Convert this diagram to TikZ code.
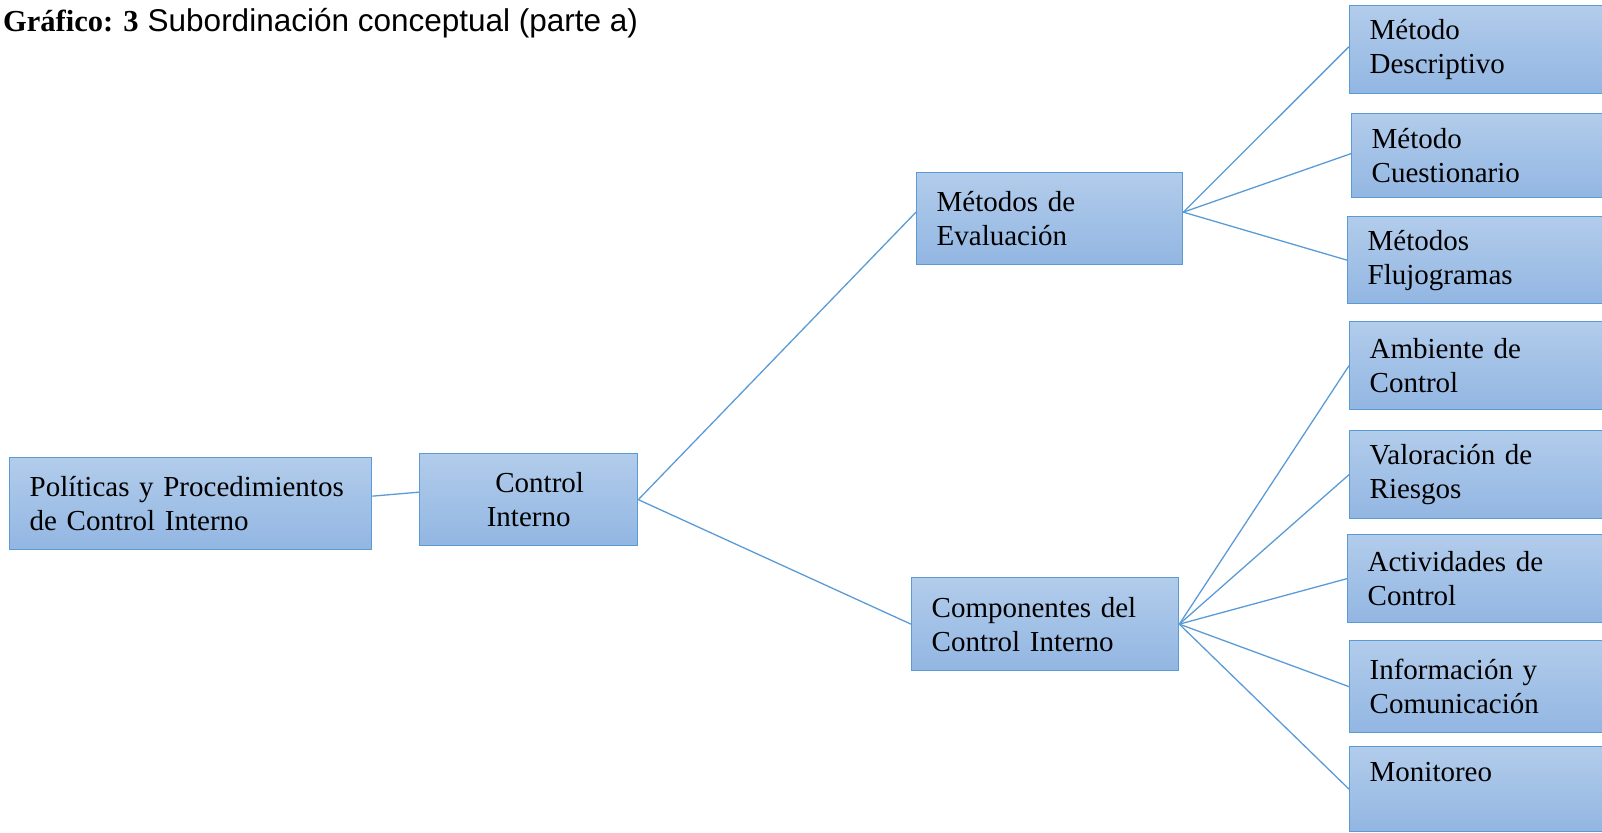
\documentclass[tikz,border=0pt]{standalone}
\usepackage{fontspec}
\setmainfont{Liberation Serif}
\newfontfamily\arialf{Liberation Sans}
\definecolor{boxtop}{HTML}{B2CCEB}
\definecolor{boxbot}{HTML}{92B6E2}
\definecolor{edgeblue}{HTML}{5B9BD5}
\tikzset{
  box/.style={draw=edgeblue, line width=1.3pt, top color=boxtop, bottom color=boxbot,
    rectangle, anchor=north west, inner xsep=20pt, inner ysep=0pt, align=left,
    font=\fontsize{29}{34}\selectfont},
  link/.style={draw=edgeblue, line width=1.3pt}
}
\begin{document}
\begin{tikzpicture}[x=1pt,y=-1pt]
\useasboundingbox (0,0) rectangle (1602,832);
\node[anchor=base west, inner sep=0pt] (title) at (3,32)
  {{\fontsize{30.5}{36}\selectfont\bfseries Gráfico: 3}\hspace{9pt}{\arialf\fontsize{31.5}{36}\selectfont Subordinación conceptual (parte a)}};
\node[box, minimum width=362pt, minimum height=92pt, text width=322pt] (pol) at (9,457)
  {Políticas y Procedimientos\\de Control Interno};
\node[box, minimum width=218pt, minimum height=92pt, text width=178pt, align=center] (ci) at (419,453)
  {\hspace*{22pt}Control\\Interno};
\node[box, minimum width=266pt, minimum height=92pt, text width=226pt] (mde) at (916,172)
  {Métodos de\\Evaluación};
\node[box, minimum width=267pt, minimum height=93pt, text width=227pt] (comp) at (911,577)
  {Componentes del\\Control Interno};
\node[box, minimum width=280pt, minimum height=88pt, text width=240pt] (desc) at (1349,5)
  {Método\\Descriptivo};
\node[box, minimum width=280pt, minimum height=84pt, text width=240pt] (cues) at (1351,113)
  {Método\\Cuestionario};
\node[box, minimum width=280pt, minimum height=87pt, text width=240pt] (fluj) at (1347,216)
  {Métodos\\Flujogramas};
\node[box, minimum width=280pt, minimum height=88pt, text width=240pt] (amb) at (1349,321)
  {Ambiente de\\Control};
\node[box, minimum width=280pt, minimum height=88pt, text width=240pt] (val) at (1349,430)
  {Valoración de\\Riesgos};
\node[box, minimum width=280pt, minimum height=88pt, text width=240pt] (act) at (1347,534)
  {Actividades de\\Control};
\node[box, minimum width=280pt, minimum height=92pt, text width=240pt] (inf) at (1349,640)
  {Información y\\Comunicación};
\node[box, minimum width=280pt, minimum height=85pt, text width=240pt] (mon) at (1349,746)
  {Monitoreo\\\mbox{}};
\draw[link] ([yshift=7.5pt]pol.east) -- ([yshift=7.5pt]ci.west);
\draw[link] (ci.east) -- ([yshift=6.5pt]mde.west);
\draw[link] (ci.east) -- (comp.west);
\draw[link] ([yshift=6.5pt]mde.east) -- ([yshift=3pt]desc.west);
\draw[link] ([yshift=6.5pt]mde.east) -- ([yshift=2pt]cues.west);
\draw[link] ([yshift=6.5pt]mde.east) -- (fluj.west);
\draw[link] (comp.east) -- (amb.west);
\draw[link] (comp.east) -- (val.west);
\draw[link] (comp.east) -- (act.west);
\draw[link] (comp.east) -- (inf.west);
\draw[link] (comp.east) -- (mon.west);
\end{tikzpicture}
\end{document}
